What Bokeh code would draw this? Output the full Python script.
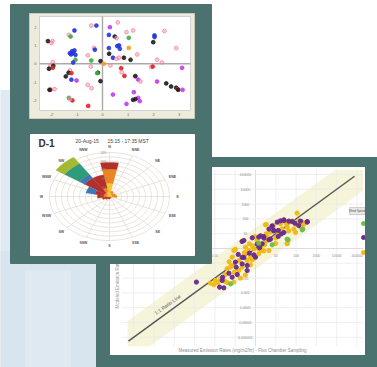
import numpy as np
from bokeh.plotting import figure
from bokeh.models import Range1d, LogScale
from bokeh.embed import file_html
from bokeh.resources import INLINE
from bokeh.core.properties import value

FONT = value("Liberation Sans")

# ---------------- DATA ----------------
# Panel 1: ordination scatter (axis units)
pca_x = [-0.44, -0.24, 0.29, 0.60, -1.10, -1.32, -1.25, -2.01, -2.14, -1.96, 0.25, 0.48, 0.55, 0.94, 1.20, 2.04, 2.04, 1.99, 2.43, 1.03,
         -1.19, -1.28, -1.15, -1.23, -1.06, -1.10, -0.33, -0.30, 0.25, 0.26, 0.58, 0.65, 0.68, 1.03, 1.36, 2.89, -0.44, -1.06, -0.58, -1.15,
         -0.08, 0.41, 0.55, 0.65, 0.84, 1.10, 0.05, 2.14, 2.33, -1.95, -2.05, -1.93, -1.95, -2.10, -0.46, 0.31, 0.73, 0.75, 1.91, 1.97,
         3.12, -1.28, -1.33, -1.22, -0.18, -0.21, -1.44, 0.86, 1.27, 1.29, 1.40, -1.22, -1.02, -0.08, 1.49, 2.14, 2.50, 2.69, 2.89, 2.94,
         2.97, 3.14, -0.58, -0.43, -2.04, -2.08, -1.88, 0.41, 1.23, 1.40, 1.20, 1.29, 1.46, -1.18, -1.32, -1.28, -0.56, 0.94]
pca_y = [2.09, 2.09, 2.00, 2.26, 1.82, 1.58, 1.49, 1.13, 1.24, 1.24, 1.58, 1.49, 1.40, 1.73, 1.82, 1.55, 1.46, 1.18, 1.79, 1.42,
         0.69, 0.58, 0.60, 0.51, 0.49, 0.73, 0.87, 0.77, 0.86, 0.55, 0.97, 1.00, 0.82, 0.87, 0.51, 0.86, 0.18, 0.22, 0.46, 0.07,
         0.15, 0.33, 0.27, 0.33, 0.33, 0.22, 0.00, 0.22, 0.07, 0.09, -0.11, -0.11, -0.22, -0.27, -0.15, -0.09, -0.24, -0.46, -0.18, -0.15,
         -0.22, -0.36, -0.49, -0.51, -0.49, -0.51, -0.69, -0.66, -0.69, -0.67, -0.86, -0.87, -0.91, -0.95, -0.97, -0.97, -1.07, -1.24, -1.31, -1.38,
         -1.42, -1.42, -1.15, -1.33, -1.42, -1.42, -1.38, -1.68, -1.55, -1.86, -1.97, -1.93, -2.04, -2.00, -1.86, -1.93, -2.30, -2.19]
pca_group = list("PBMPBPGPKPBKPPPBBKPG" "BBBBBBPBBKBBBOPPGGPB" "KBPPKKOPPPPKRKPPRPPR"
                 "MPKRKGKRPKMBMKPMKKKR" "KMPPRKPMMMKKMRGPRM")
pca_xticks = [-2, -1, 0, 1, 2, 3]
pca_yticks = [-2, -1, 0, 1, 2]

# Panel 2: wind rose (percent of time per direction and speed class)
rose_title = "D-1"
rose_date = "20-Aug-15"
rose_time = "15:15 - 17:35 MST"
rose_dirs = ["N", "NNE", "NE", "ENE", "E", "ESE", "SE", "SSE", "S", "SSW", "SW", "WSW", "W", "WNW", "NW", "NNW"]
rose_speed_bins = ["0-1", "1-2", "2-3", "3-4", "4-5", ">5"]
freq_0_1 = [6.0, 1.5, 1.0, 1.0, 1.0, 0.5, 0.3, 0.3, 0.3, 0.3, 0.3, 0.5, 1.0, 1.0, 1.0, 2.0]
freq_1_2 = [6.5, 1.0, 0.8, 1.2, 1.5, 0.3, 0.0, 0.0, 0.0, 0.0, 0.3, 0.5, 1.0, 1.0, 1.0, 2.0]
freq_2_3 = [3.0, 0.0, 0.0, 0.0, 0.0, 0.0, 0.0, 0.5, 0.8, 0.8, 1.0, 1.5, 2.0, 3.0, 8.0, 6.0]
freq_3_4 = [0.0, 0.0, 0.0, 0.0, 0.0, 0.0, 0.0, 0.0, 0.0, 0.0, 0.0, 0.0, 0.0, 3.0, 2.0, 0.0]
freq_4_5 = [0.0, 0.0, 0.0, 0.0, 0.0, 0.0, 0.0, 0.0, 0.0, 0.0, 0.0, 0.0, 0.0, 0.0, 6.0, 0.0]
freq_5_up = [0.0, 0.0, 0.0, 0.0, 0.0, 0.0, 0.0, 0.0, 0.0, 0.0, 0.0, 0.0, 0.0, 0.0, 3.5, 0.0]
rose_rings = [2, 4, 6, 8, 10, 12, 14, 16, 18, 20]
rose_ring_labels = ["4%", "8%", "12%", "16%", "20%"]
rose_ring_label_vals = [4, 8, 12, 16, 20]

# Panel 3: modeled vs measured emission rates (log10 of mg/m2/hr)
meas_log10 = [-2.91, -2.22, -1.97, -1.72, -1.64, -1.51, -1.77, -1.56, -1.23, -1.07,
              -0.90, -0.82, -0.95, -0.66, -0.66, -1.18, -1.07, -1.15, -0.41, -0.41,
              -0.16, -0.08, 0.00, 0.16, 0.33, 0.25, 0.33, 0.08, 0.16, 0.53,
              0.66, -0.66, -0.57, -0.49, -0.30, -0.16, -0.03, -0.33, 0.53, 0.74,
              0.90, 0.99, 1.12, 1.15, 1.28, 1.61, 1.56, 1.31, 1.07, 1.23,
              1.40, 1.51, 1.64, 1.81, 1.94, 2.05, 2.22, 2.33, 2.55, 2.30,
              2.13, 1.56, 0.82, 0.90, 1.12, 0.16, 0.66, -0.66, -0.82, -0.99,
              -1.23, -1.40, -1.31, -1.48, -1.15, -0.53, -0.30, -0.08, 0.20, 0.41,
              0.53, -0.41, 0.49, 0.82, 1.23, 1.40, 1.64, 1.81, 1.97, 2.13,
              2.55, 2.38, 2.22, 2.33, 1.64, 1.56, 1.56, 0.90, 0.61, 0.25,
              -0.66, -0.99, -0.16, 0.08, 0.41, -0.54, -0.08, 0.99, 1.15, 1.40,
              1.89, 1.97, 0.66, 0.16, 0.41, 0.74, 0.82, -0.25, -0.57, -1.30,
              -1.05, -0.75, -1.85, -0.50, -1.62, -0.25, -0.85, -2.05, -1.40, 0.45]
model_log10 = [-2.27, -2.34, -2.16, -2.05, -2.16, -2.21, -2.61, -2.66, -2.39, -2.27,
               -1.76, -1.49, -1.26, -1.26, -1.04, -1.15, -0.14, -0.59, -0.81, -1.15,
               -0.77, -0.47, -0.59, -0.36, -0.14, 0.09, 0.32, 0.54, 0.77, 0.50,
               0.59, 0.50, 0.54, 0.09, 0.32, 0.72, 0.81, -0.14, 1.62, 1.10,
               1.22, 0.72, 0.81, 0.95, 0.99, 0.59, 0.32, 1.33, 1.78, 1.67,
               1.89, 1.71, 1.85, 1.85, 1.71, 2.39, 1.85, 1.78, 1.78, 1.26,
               1.55, 1.44, 1.49, 1.55, 1.22, 0.36, -0.14, -0.59, -0.81, -0.92,
               -1.26, -1.37, -1.67, -1.76, -1.94, -0.36, -0.32, -0.02, 0.05, 0.81,
               0.99, -1.49, 1.60, 1.53, 1.87, 1.94, 1.76, 1.82, 1.64, 1.87,
               1.82, 1.64, 1.46, 1.31, 1.19, 0.63, 0.34, 1.19, 0.74, 0.86,
               0.47, -0.05, 0.18, 0.29, 0.70, -0.27, -0.43, 0.34, 0.97, 1.08,
               1.31, 1.08, 1.31, -0.05, -0.16, 0.63, 0.25, -0.61, -0.61, -0.90,
               -1.60, -2.00, -2.30, -1.80, -1.95, -1.10, -0.40, -2.45, -2.30, 0.25]
wind_class = list("PYYYPYPPGY" "PYPYPYYYYP" "YYPYYYPYPY" "PYPYYPYYYY" "PYPYPGYYPY"
                  "PYPYPYPYPG" "PYPYPGYPYP" "YYPYPYPYPP" "YPYPPPYPYY" "PYYGYGYPYP"
                  "PYYPPYPYYP" "YYPYYPGYPY" "YYYYPYPYYY")
decades = [-6, -5, -4, -3, -2, -1, 0, 1, 2, 3, 4, 5]
decade_labels = ["0.000001", "0.00001", "0.0001", "0.001", "0.01", "0.1", "1",
                 "10", "100", "1000", "10000", "100000"]
ratio_band_decades = 1.4
legend_title = "Wind Speed"

# ---------------- STYLE / LAYOUT ----------------
TEAL = "#4a7370"
PCA_COLORS = {"P": "#f28aa0", "B": "#2435e0", "R": "#e0242a", "K": "#1e1e1e",
              "G": "#3fae3f", "M": "#c23cf0", "O": "#f0a020"}
ROSE_COLORS = ["#f2c531", "#ea8522", "#b3302a", "#3e78b6", "#2e9c7a", "#a6b833"]
WIND_COLORS = {"Y": "#f2b90f", "P": "#6a2b8e", "G": "#6cc04a"}

PW, PH = 377, 367
p = figure(width=PW, height=PH, output_backend="svg", toolbar_location=None,
           x_range=Range1d(0, PW), y_range=Range1d(PH, 0), min_border=0,
           x_axis_location=None, y_axis_location=None)
p.grid.visible = False
p.outline_line_color = None
p.background_fill_color = "white"
p.border_fill_color = "white"

# per-panel scales placed on the page
PCA_X0, PCA_SX, PCA_Y0, PCA_SY = 102.0, 25.5, 63.3, 18.3
RC_X, RC_Y, RA, RB = 109.0, 196.0, 60.0, 44.0
LX0, LSX, LY0, LSY = 255.0, 20.3, 248.0, 14.8
p.extra_x_ranges = {
    "pca": Range1d((0 - PCA_X0) / PCA_SX, (PW - PCA_X0) / PCA_SX),
    "rose": Range1d((0 - RC_X) / RA, (PW - RC_X) / RA),
    "meas": Range1d(10 ** ((0 - LX0) / LSX), 10 ** ((PW - LX0) / LSX)),
}
p.extra_y_ranges = {
    "pca": Range1d((PCA_Y0 - PH) / PCA_SY, (PCA_Y0 - 0) / PCA_SY),
    "rose": Range1d((RC_Y - PH) / RB, (RC_Y - 0) / RB),
    "model": Range1d(10 ** ((LY0 - PH) / LSY), 10 ** ((LY0 - 0) / LSY)),
}
p.extra_x_scales = {"meas": LogScale()}
p.extra_y_scales = {"model": LogScale()}
M = dict(x_range_name="meas", y_range_name="model")
R = dict(x_range_name="rose", y_range_name="rose")
Q = dict(x_range_name="pca", y_range_name="pca")

# ---------- background ----------
p.quad(left=[0], right=[96], top=[250], bottom=[367], color="#d8e4ee")
p.quad(left=[25], right=[70], top=[270], bottom=[367], color="#dfe9f2")
p.quad(left=[0], right=[10], top=[90], bottom=[250], color="#e1eaf2")

# ---------- right panel: modeled vs measured ----------
p.quad(left=[96], right=[377], top=[157], bottom=[367], color=TEAL)
p.quad(left=[110], right=[365], top=[167], bottom=[355], color="white")

lo, hi = -6.6, 5.3
t = np.linspace(-6.3, hi, 300)
up = np.clip(t + ratio_band_decades, lo, hi)
dn = np.clip(t - ratio_band_decades, lo, hi)
p.patch(10 ** np.concatenate([t, t[::-1]]), 10 ** np.concatenate([up, dn[::-1]]),
        color="#f6f4d9", line_color=None, **M)
dec = np.array(decades, float)
gcol = ["#d4d4d4" if d == 0 else "#ebebeb" for d in decades]
p.segment(x0=10 ** dec, y0=[10 ** lo] * len(dec), x1=10 ** dec, y1=[10 ** hi] * len(dec),
          line_color=gcol, line_width=0.8, **M)
p.segment(x0=[10 ** lo] * len(dec), y0=10 ** dec, x1=[10 ** hi] * len(dec), y1=10 ** dec,
          line_color=gcol, line_width=0.8, **M)
ylab_d = [d for d in decades if d != 0]
ylab_t = [l for d, l in zip(decades, decade_labels) if d != 0]
p.text(x=[10 ** -0.5] * len(ylab_d), y=[10.0 ** d for d in ylab_d], text=ylab_t,
       text_font=FONT, text_font_size="3.5px", text_color="#8a8a8a",
       text_align="center", text_baseline="middle", **M)
p.text(x=[10.0 ** d for d in ylab_d], y=[10 ** -0.45] * len(ylab_d), text=ylab_t,
       text_font=FONT, text_font_size="3.5px", text_color="#8a8a8a",
       text_align="center", text_baseline="middle", **M)
p.line([10 ** -6.26, 10 ** 4.88], [10 ** -6.26, 10 ** 4.88], line_color="#555555", line_width=1.4, **M)
p.text(x=[10 ** -4.25], y=[10 ** -3.95], text=["1:1 Ratio Line"], angle=0.62,
       text_font=FONT, text_font_size="5px", text_color="#555555",
       text_align="center", text_baseline="bottom", **M)
for c in ["Y", "P", "G"]:
    idx = [i for i, w in enumerate(wind_class) if w == c]
    p.scatter(x=[10 ** meas_log10[i] for i in idx], y=[10 ** model_log10[i] for i in idx],
              size=4.2, fill_color=WIND_COLORS[c], line_color=WIND_COLORS[c], fill_alpha=0.95, **M)
p.text(x=[242], y=[350], text=["Measured Emission Rates (mg/m2/hr) - Flux Chamber Sampling"],
       text_font=FONT, text_font_size="4.5px", text_color="#8c8c8c",
       text_align="center", text_baseline="middle")
p.text(x=[117], y=[308], text=["Modeled Emission Rates (mg/m2/hr) - Dispersion Modeling"], angle=np.pi / 2,
       text_font=FONT, text_font_size="4.5px", text_color="#9a9a9a",
       text_align="left", text_baseline="middle")
# legend at the right edge of the chart
p.quad(left=[349], right=[364.5], top=[207], bottom=[214], fill_color="#e9e9e9", line_color="#b5b5b5", line_width=0.6)
p.text(x=[356.7], y=[210.6], text=[legend_title], text_font=FONT, text_font_size="3px",
       text_color="#555555", text_align="center", text_baseline="middle")
p.scatter(x=[363, 363, 363], y=[223, 237, 252], size=4.0,
          color=[WIND_COLORS["G"], WIND_COLORS["P"], WIND_COLORS["Y"]])
# frame strips
p.quad(left=[365], right=[377], top=[157], bottom=[367], color=TEAL)
p.quad(left=[96], right=[377], top=[355], bottom=[367], color=TEAL)

# ---------- left panel ----------
p.quad(left=[10], right=[211], top=[4], bottom=[263], color=TEAL)

# top: ordination scatter
p.quad(left=[29], right=[194], top=[13], bottom=[118], fill_color="#eeebdc", line_color="#d6d2bf", line_width=0.8)
p.quad(left=[39], right=[190], top=[16], bottom=[110], fill_color="white", line_color="#c9c9c9", line_width=0.8)
p.segment(x0=[0, (39 - PCA_X0) / PCA_SX], y0=[(PCA_Y0 - 16) / PCA_SY, 0],
          x1=[0, (190 - PCA_X0) / PCA_SX], y1=[(PCA_Y0 - 110) / PCA_SY, 0],
          line_color="#a9a9a9", line_width=1.4, **Q)
p.scatter(x=pca_x, y=pca_y, size=3.8,
          fill_color=[PCA_COLORS[g] for g in pca_group], line_color=[PCA_COLORS[g] for g in pca_group],
          fill_alpha=[0.45 if g == "P" else 0.9 for g in pca_group], line_width=0.8, **Q)
p.text(x=pca_xticks, y=[(PCA_Y0 - 113.5) / PCA_SY] * len(pca_xticks), text=[str(v) for v in pca_xticks],
       text_font=FONT, text_font_size="4px", text_color="#666666",
       text_align="center", text_baseline="middle", **Q)
p.text(x=[(36 - PCA_X0) / PCA_SX] * len(pca_yticks), y=pca_yticks, text=[str(v) for v in pca_yticks],
       text_font=FONT, text_font_size="4px", text_color="#666666",
       text_align="right", text_baseline="middle", **Q)

# bottom: wind rose
p.quad(left=[30], right=[194], top=[134], bottom=[255], color="white")
RMAX = float(rose_rings[-1])
th = np.linspace(0, 2 * np.pi, 120)
p.multi_line(xs=[list(k / RMAX * np.sin(th)) for k in rose_rings],
             ys=[list(k / RMAX * np.cos(th)) for k in rose_rings],
             line_color="#e3ddcf", line_width=0.8, **R)
ang = np.radians(np.arange(16) * 22.5)
p.segment(x0=[0] * 16, y0=[0] * 16, x1=np.sin(ang), y1=np.cos(ang), line_color="#e3ddcf", line_width=0.8, **R)
bins = [freq_0_1, freq_1_2, freq_2_3, freq_3_4, freq_4_5, freq_5_up]
cum = np.zeros(16)
wx, wy, wc = [], [], []
for b, col in zip(bins, ROSE_COLORS):
    b = np.asarray(b, float)
    for i in range(16):
        if b[i] <= 0:
            continue
        r0, r1 = cum[i] / RMAX, (cum[i] + b[i]) / RMAX
        a = np.radians(np.linspace(i * 22.5 - 11.25, i * 22.5 + 11.25, 14))
        wx.append(list(np.concatenate([r1 * np.sin(a), r0 * np.sin(a[::-1])])))
        wy.append(list(np.concatenate([r1 * np.cos(a), r0 * np.cos(a[::-1])])))
        wc.append(col)
    cum += b
p.patches(wx, wy, fill_color=wc, line_color=wc, line_width=0.3, **R)
p.text(x=list(1.135 * np.sin(ang)), y=list(1.135 * np.cos(ang)), text=rose_dirs,
       text_font=FONT, text_font_size="3.5px", text_font_style="bold", text_color="#555555",
       text_align="center", text_baseline="middle", **R)
p.text(x=[-0.05] * len(rose_ring_label_vals), y=[v / RMAX for v in rose_ring_label_vals], text=rose_ring_labels,
       text_font=FONT, text_font_size="3px", text_color="#888888",
       text_align="right", text_baseline="middle", **R)
p.text(x=[38], y=[143], text=[rose_title], text_font=FONT, text_font_size="10px", text_font_style="bold",
       text_color="#333333", text_align="left", text_baseline="middle")
p.text(x=[75, 107], y=[140.5, 140.5], text=[rose_date, rose_time], text_font=FONT, text_font_size="5px",
       text_color="#444444", text_align="left", text_baseline="middle")

open("out.html", "w").write(file_html(p, INLINE))
